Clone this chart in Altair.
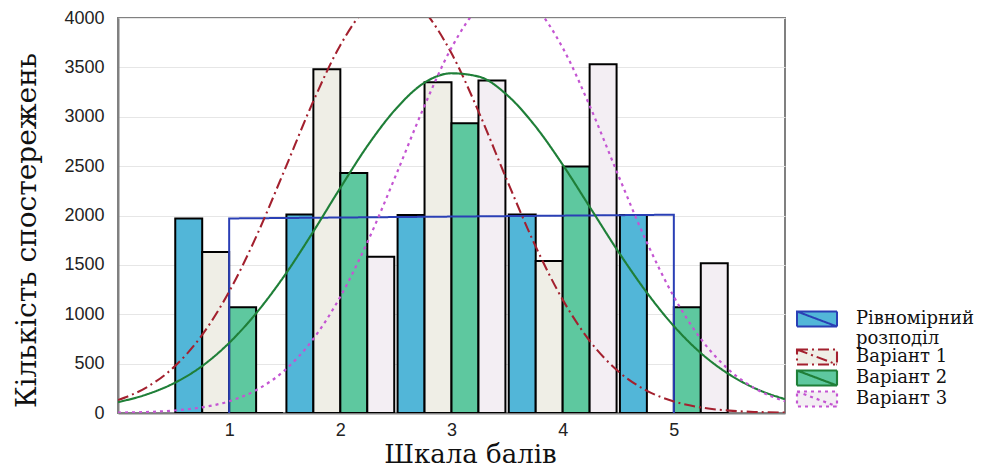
import altair as alt
import pandas as pd

# ---- data ----
scores = [1, 2, 3, 4, 5]
series_names = ["Рівномірний розподіл", "Варіант 1", "Варіант 2", "Варіант 3"]
uniform_counts = [1970, 2010, 2005, 2010, 2005]
variant1_counts = [1630, 3480, 3350, 1540, 0]
variant2_counts = [1070, 2430, 2935, 2495, 1070]
variant3_counts = [0, 1583, 3368, 3531, 1516]

# fitted curves, read at steps of 0.25 along the score axis
curve_x = [0, 0.25, 0.5, 0.75, 1, 1.25, 1.5, 1.75, 2, 2.25, 2.5, 2.75, 3,
           3.25, 3.5, 3.75, 4, 4.25, 4.5, 4.75, 5, 5.25, 5.5, 5.75, 6]
variant1_fit = [131, 255, 462, 780, 1229, 1803, 2465, 3139, 3725, 4119, 4243, 4073, 3642,
                3035, 2355, 1704, 1148, 721, 422, 230, 117, 55, 24, 10, 4]
variant2_fit = [110, 185, 300, 470, 710, 1020, 1395, 1825, 2280, 2715, 3080, 3340, 3440,
                3405, 3220, 2910, 2515, 2075, 1635, 1230, 880, 600, 390, 240, 140]
variant3_fit = [4, 10, 25, 56, 119, 236, 433, 740, 1178, 1746, 2408, 3093, 3699,
                4117, 4267, 4117, 3699, 3093, 2408, 1746, 1178, 740, 433, 236, 119]
uniform_fit_x = [1, 1, 5, 5]
uniform_fit_y = [0, 1970, 2008, 0]

y_ticks = [0, 500, 1000, 1500, 2000, 2500, 3000, 3500, 4000]
x_ticks = [1, 2, 3, 4, 5]

fill_colors = ["#52b6d8", "#efeee6", "#5ec89f", "#f3eef3"]
line_colors = ["#2a3fb5", "#a3202e", "#1f7f38", "#c455d2"]
dashes = [[1, 0], [11, 4, 2, 4], [1, 0], [3, 4]]
line_widths = [2, 2.2, 2, 3]

SERIF = "DejaVu Serif, Liberation Serif, serif"
SANS = "Liberation Sans, Arial, sans-serif"

# ---- tables ----
bar_w = 0.2425
rows = []
counts = [uniform_counts, variant1_counts, variant2_counts, variant3_counts]
for i, name in enumerate(series_names):
    for s, c in zip(scores, counts[i]):
        x0 = s - 0.485 + bar_w * i
        rows.append({"series": name, "x0": x0, "x1": x0 + bar_w, "count": c})
bar_df = pd.DataFrame(rows)

urows = [{"series": series_names[0], "x": xx, "y": yy, "idx": k}
         for k, (xx, yy) in enumerate(zip(uniform_fit_x, uniform_fit_y))]
uni_df = pd.DataFrame(urows)

crows = []
for name, ys in zip(series_names[1:], [variant1_fit, variant2_fit, variant3_fit]):
    for k, (xx, yy) in enumerate(zip(curve_x, ys)):
        crows.append({"series": name, "x": xx, "y": yy, "idx": k})
curve_df = pd.DataFrame(crows)

xscale = alt.Scale(domain=[0, 6], nice=False, zero=False)
yscale = alt.Scale(domain=[0, 4000], nice=False)

x_axis = alt.Axis(values=x_ticks, format="d", title="Шкала балів", grid=False, tickSize=0,
                  labelPadding=8, labelFont=SANS, labelFontSize=18,
                  labelColor="#222", titleFont=SERIF, titleFontSize=26,
                  titleFontWeight="normal", titleColor="#111", titleX=352, titleY=49,
                  titleBaseline="alphabetic", domainColor="#808080", domainWidth=2)
y_axis = alt.Axis(values=y_ticks, format="d", title="Кількість спостережень", grid=True,
                  gridColor="#e6e6e6", gridWidth=1, tickSize=0, labelPadding=14,
                  labelFont=SANS, labelFontSize=18, labelColor="#222",
                  titleFont=SERIF, titleFontSize=28, titleFontWeight="normal",
                  titleColor="#111", titleAngle=-90, titleX=-83, titleY=212,
                  titleBaseline="alphabetic", titleAlign="center",
                  domainColor="#808080", domainWidth=2)

sym_path = "M-4,-1.5L4,-1.5L4,1.5L-4,1.5ZM-4,-1.5L4,1.5"
label_expr = "datum.label == 'Рівномірний розподіл' ? ['Рівномірний', 'розподіл'] : datum.label"


def make_legend():
    return alt.Legend(title=None, labelExpr=label_expr)


def line_enc():
    return dict(
        x=alt.X("x:Q", scale=xscale),
        y=alt.Y("y:Q", scale=yscale),
        stroke=alt.Stroke("series:N", scale=alt.Scale(domain=series_names, range=line_colors),
                          legend=make_legend()),
        strokeDash=alt.StrokeDash("series:N", scale=alt.Scale(domain=series_names, range=dashes),
                                  legend=make_legend()),
        strokeWidth=alt.StrokeWidth("series:N",
                                    scale=alt.Scale(domain=series_names, range=line_widths),
                                    legend=None),
        order=alt.Order("idx:Q"),
    )


bars = alt.Chart(bar_df).mark_bar(stroke="black", strokeWidth=2, clip=True).encode(
    x=alt.X("x0:Q", scale=xscale, axis=x_axis),
    x2="x1:Q",
    y=alt.Y("count:Q", scale=yscale, axis=y_axis),
    y2=alt.datum(0),
    fill=alt.Fill("series:N", scale=alt.Scale(domain=series_names, range=fill_colors),
                  legend=make_legend()),
)

uni_line = alt.Chart(uni_df).mark_line(clip=True).encode(**line_enc())
curves = alt.Chart(curve_df).mark_line(clip=True, interpolate="monotone").encode(**line_enc())

chart = alt.layer(bars, uni_line, curves).properties(
    width=667, height=395,
    autosize=alt.AutoSizeParams(type="none"),
    padding={"left": 110, "top": 10, "right": 193, "bottom": 55},
).configure_view(
    stroke="#808080", strokeWidth=2
).configure_legend(
    orient="none", legendX=690, legendY=292, padding=0,
    symbolType=sym_path, symbolSize=100, symbolStrokeWidth=2,
    labelFont=SERIF, labelFontSize=18, labelColor="#111",
    labelOffset=30, rowPadding=-5, labelLimit=300,
)

chart.save("out.html", embed_options={"renderer": "svg", "actions": False})
